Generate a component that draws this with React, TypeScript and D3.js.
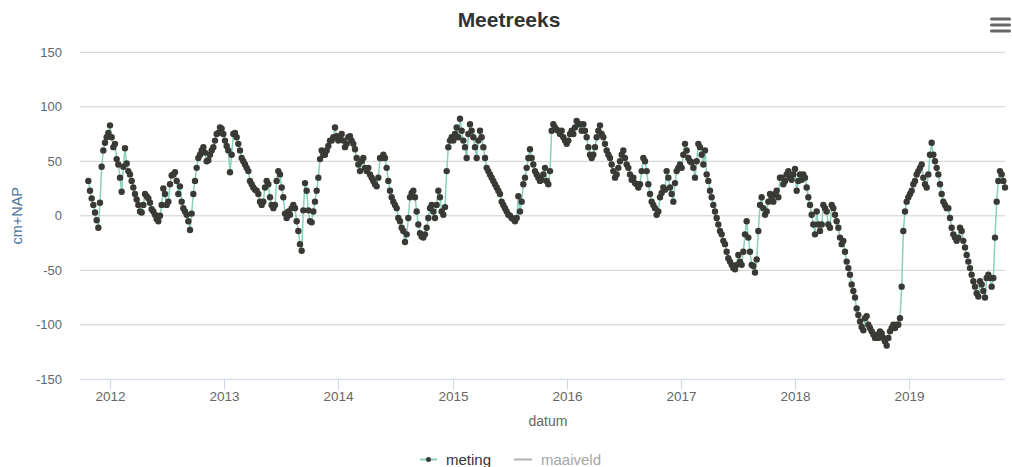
import React from 'react';
import * as d3 from 'd3';

const W = 1012;
const H = 467;

// x-axis tick labels (years) and y-axis ticks (cm+NAP)
const jaren = [2012, 2013, 2014, 2015, 2016, 2017, 2018, 2019];
const yTicks = [-150, -100, -50, 0, 50, 100, 150];

// groundwater level readings, one reading every 128 hours from the first measurement
const meetStart = Date.UTC(2011, 9, 23, 16);
const meetIntervalUren = 128;
const meting = [
  // autumn 2011 - summer 2012
  32, 23, 16, 10, 3, -4, -11, 12, 45, 60, 67, 72, 76, 83, 72, 63, 66, 52, 47, 35,
  22, 45, 62, 48, 41, 38, 32, 26, 20, 15, 10, 4, 3, 10, 20, 18, 16, 12, 6, 4,
  1, -3, -5, 0, 10, 25, 20, 10, 13, 29, 37, 38, 40, 32, 20,
  // 2012 - 2013
  27, 13, 7, 4, 1, -5, -13, 2, 20, 32, 44, 53, 56, 60, 63, 58, 50, 51, 56, 60,
  63, 69, 75, 76, 81, 80, 75, 69, 64, 60, 40, 56, 75, 76, 72, 66, 60, 53, 50, 47,
  44, 41, 32, 29, 26, 24, 23, 20, 13, 10, 13, 26, 32, 29, 17, 10, 7, 10, 32, 41,
  // 2013 - 2014
  38, 26, 17, 2, -2, 4, 1, 7, 10, 7, -5, -14, -26, -32, 5, 30, 23, 5, -5, -6,
  4, 13, 23, 35, 52, 60, 56, 56, 60, 64, 69, 69, 72, 81, 73, 69, 72, 75, 69, 63,
  66, 72, 73, 69, 66, 61, 53, 47, 41, 50, 53, 44, 41, 44, 38, 35, 32, 29, 27, 35,
  // 2014 - 2015
  53, 53, 56, 53, 44, 32, 23, 17, 13, 10, 7, -2, -5, -11, -14, -24, -17, -2, 17, 21,
  23, 17, 4, -8, -16, -19, -20, -17, -11, -2, 7, 10, 4, -2, 10, 23, 17, 4, 1, 8,
  41, 63, 69, 72, 69, 75, 81, 72, 89, 78, 69, 63, 53, 75, 84, 78, 72, 63, 53, 69,
  // 2015 - 2016
  78, 72, 63, 53, 44, 41, 38, 35, 32, 29, 26, 23, 20, 13, 10, 7, 4, 1, 0, -2,
  -3, -5, -2, 18, 4, 13, 29, 35, 44, 53, 61, 53, 47, 41, 38, 35, 32, 33, 38, 44,
  32, 29, 41, 78, 84, 81, 79, 78, 75, 78, 72, 69, 66, 69, 75, 78, 75, 81, 87, 84,
  // 2016 - 2017
  84, 78, 84, 78, 72, 63, 56, 53, 56, 63, 72, 78, 83, 75, 72, 66, 60, 56, 53, 47,
  41, 35, 38, 44, 50, 56, 60, 53, 47, 44, 38, 33, 35, 30, 29, 26, 29, 41, 53, 50,
  41, 29, 20, 13, 10, 7, 1, 4, 17, 21, 26, 24, 41, 35, 26, 20, 13, 30, 41, 44,
  // 2017 - 2018
  47, 44, 56, 66, 60, 53, 50, 49, 44, 35, 50, 66, 63, 56, 47, 60, 38, 32, 23, 17,
  10, 4, -2, -8, -14, -17, -23, -26, -33, -39, -42, -45, -48, -49, -45, -36, -42, -45, -33, -17,
  -5, -20, -33, -45, -46, -52, -40, -14, 10, 17, 7, 1, 4, 13, 20, 17, 13, 20, 23, 17,
  // 2018
  35, 35, 29, 32, 38, 41, 35, 33, 38, 43, 23, 32, 38, 33, 38, 35, 26, 17, 10, 1,
  -8, -17, 4, -8, -14, -8, 10, 7, 4, -8, -11, 10, 7, 1, -5, -11, -20, -26, -23, -33,
  -42, -48, -54, -63, -69, -75, -85, -91, -97, -102, -105, -94, -92, -100, -103, -106, -109, -112, -109, -112,
  // late 2018 - autumn 2019
  -106, -108, -112, -115, -119, -112, -106, -103, -100, -103, -100, -100, -94, -65, -14, 4, 13, 17, 20, 23,
  29, 32, 38, 41, 44, 47, 35, 29, 26, 38, 56, 67, 56, 50, 44, 38, 29, 20, 13, 10,
  7, 7, -2, -11, -17, -20, -23, -20, -11, -14, -23, -29, -36, -42, -48, -54, -60, -65, -71, -74,
  -60, -63, -69, -75, -57, -54, -57, -65, -57, -20, 13, 32, 41, 38, 32, 26,
];

const legendaNamen = ['meting', 'maaiveld'];

const FONT = '"Liberation Sans", Arial, Helvetica, sans-serif';

type Punt = { t: Date; v: number };

export default function App() {
  const plotLeft = 80;
  const plotRight = 1005;
  const plotTop = 52.3;
  const plotBottom = 379.3;

  const x = d3
    .scaleUtc()
    .domain([new Date(Date.UTC(2011, 8, 27)), new Date(Date.UTC(2019, 10, 4))])
    .range([plotLeft, plotRight]);
  const y = d3.scaleLinear().domain([-150, 150]).range([plotBottom, plotTop]);

  const punten: Punt[] = meting.map((v, i) => ({
    t: new Date(meetStart + i * meetIntervalUren * 3600 * 1000),
    v,
  }));

  const lijn = d3
    .line<Punt>()
    .x((d) => x(d.t))
    .y((d) => y(d.v));

  const lineColor = '#88d1bd';
  const markerColor = '#393a35';

  return (
    <svg
      width={W}
      height={H}
      style={{ position: 'absolute', left: 0, top: 0, background: '#fff', fontFamily: FONT }}
    >
      {/* title */}
      <text x={509} y={27} textAnchor="middle" fontSize={21} fontWeight="bold" fill="#333333">
        Meetreeks
      </text>

      {/* context menu button */}
      <g stroke="#666666" strokeWidth={3} strokeLinecap="round">
        {[19, 25, 31].map((yy) => (
          <line key={yy} x1={991.5} x2={1009.5} y1={yy} y2={yy} />
        ))}
      </g>

      {/* horizontal grid lines and y labels */}
      {yTicks.map((t) => (
        <g key={t}>
          {t !== -150 && (
            <line x1={plotLeft} x2={plotRight} y1={y(t)} y2={y(t)} stroke="#cfcfcf" strokeWidth={1} />
          )}
          <text x={62} y={y(t) + 4.5} textAnchor="end" fontSize={13} fill="#666666">
            {t}
          </text>
        </g>
      ))}

      {/* x axis */}
      <line x1={plotLeft} x2={plotRight} y1={plotBottom} y2={plotBottom} stroke="#ccd6eb" strokeWidth={1} />
      {jaren.map((j) => {
        const xx = Math.round(x(new Date(Date.UTC(j, 0, 1)))) + 0.5;
        return (
          <g key={j}>
            <line x1={xx} x2={xx} y1={plotBottom} y2={plotBottom + 10} stroke="#ccd6eb" strokeWidth={1} />
            <text x={xx} y={401} textAnchor="middle" fontSize={13.5} fill="#666666">
              {j}
            </text>
          </g>
        );
      })}

      {/* axis titles */}
      <text x={548} y={426} textAnchor="middle" fontSize={14} fill="#666666">
        datum
      </text>
      <text
        transform={`translate(22,${(plotTop + plotBottom) / 2}) rotate(-90)`}
        textAnchor="middle"
        fontSize={14.5}
        fill="#4d759e"
      >
        cm+NAP
      </text>

      {/* series */}
      <path d={lijn(punten) || ''} fill="none" stroke={lineColor} strokeWidth={1.5} />
      <g fill={markerColor}>
        {punten.map((p, i) => (
          <circle key={i} cx={x(p.t)} cy={y(p.v)} r={3.2} />
        ))}
      </g>

      {/* legend */}
      <g fontSize={15}>
        <line x1={420} x2={437} y1={459.5} y2={459.5} stroke={lineColor} strokeWidth={2} />
        <circle cx={428.5} cy={459.5} r={2.5} fill={markerColor} />
        <text x={446} y={464.5} fill="#333333">
          {legendaNamen[0]}
        </text>
        <line x1={514} x2={532} y1={459.5} y2={459.5} stroke="#b3b3b3" strokeWidth={2} />
        <text x={541} y={464.5} fill="#a6a6a6">
          {legendaNamen[1]}
        </text>
      </g>
    </svg>
  );
}
